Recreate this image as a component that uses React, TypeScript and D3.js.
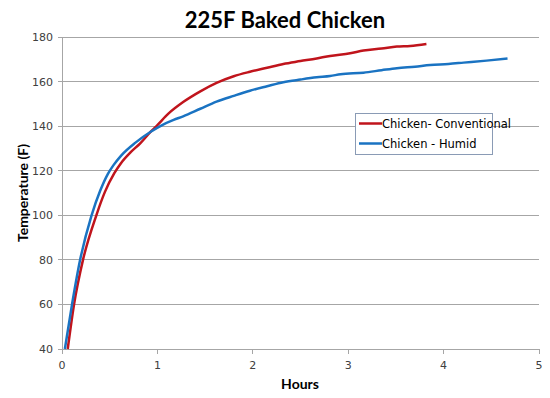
import React from "react";
import * as d3 from "d3";

const title = "225F Baked Chicken";
const xLabel = "Hours";
const yLabel = "Temperature (F)";
const xTicks = [0, 1, 2, 3, 4, 5];
const yTicks = [40, 60, 80, 100, 120, 140, 160, 180];
const seriesNames = ["Chicken- Conventional", "Chicken - Humid"];
const seriesColors = ["#c0141c", "#1a73c2"];

const conventionalHours = [0.06, 0.126, 0.22, 0.36, 0.45, 0.55, 0.62, 0.72, 0.82, 0.93, 1.0, 1.115, 1.27, 1.45, 1.62, 1.8, 1.97, 2.15, 2.32, 2.5, 2.67, 2.81, 3.02, 3.16, 3.35, 3.51, 3.65, 3.82];
const conventionalTemps = [40, 60, 80, 100, 110.5, 119, 123.5, 128.3, 132.3, 137.5, 140.5, 145.6, 150.8, 155.6, 159.4, 162.4, 164.4, 166.2, 167.9, 169.2, 170.4, 171.5, 172.7, 173.9, 174.8, 175.7, 176, 176.9];

const humidHours = [0.03, 0.105, 0.19, 0.31, 0.4, 0.48, 0.54, 0.62, 0.77, 0.93, 1.05, 1.17, 1.27, 1.45, 1.62, 1.8, 1.97, 2.15, 2.32, 2.5, 2.67, 2.81, 2.92, 3.16, 3.35, 3.51, 3.7, 3.86, 4.05, 4.21, 4.45, 4.67];
const humidTemps = [40, 60, 80, 100, 111, 118.5, 122.5, 126.8, 132.6, 137.5, 140.5, 142.8, 144.4, 147.8, 151, 153.6, 155.9, 157.9, 159.7, 160.9, 161.9, 162.5, 163.3, 164, 165.1, 166, 166.7, 167.4, 167.9, 168.5, 169.4, 170.3];

export default function App() {
  const W = 550, H = 398;
  const left = 62, right = 539, top = 37, bottom = 349;
  const x = d3.scaleLinear().domain([0, 5]).range([left, right]);
  const y = d3.scaleLinear().domain([40, 180]).range([bottom, top]);
  const line = d3
    .line<[number, number]>()
    .x((d) => x(d[0]))
    .y((d) => y(d[1]))
    .curve(d3.curveMonotoneX);
  const series = [
    conventionalHours.map((h, i) => [h, conventionalTemps[i]] as [number, number]),
    humidHours.map((h, i) => [h, humidTemps[i]] as [number, number]),
  ];
  const font = "Tahoma, 'DejaVu Sans', sans-serif";
  const legX = 355, legY = 113;
  return (
    <svg width={W} height={H} style={{ position: "absolute", left: 0, top: 0, background: "#fff" }}>
      <rect x={0} y={0} width={W} height={H} fill="#fff" />
      <text x={285} y={28} textAnchor="middle" fontFamily="Lato, 'Open Sans', sans-serif" fontWeight="bold" fontSize={22} fill="#000">
        {title}
      </text>
      {yTicks.map((t) => (
        <g key={"y" + t}>
          <line x1={left - 4} x2={right} y1={y(t)} y2={y(t)} stroke="#a6a6a6" strokeWidth={1} shapeRendering="crispEdges" />
          <text x={53} y={y(t) + 4} textAnchor="end" fontFamily={font} fontSize={11} fill="#404040">
            {t}
          </text>
        </g>
      ))}
      <line x1={left} x2={left} y1={top} y2={bottom} stroke="#a6a6a6" strokeWidth={1} shapeRendering="crispEdges" />
      {xTicks.map((t) => (
        <g key={"x" + t}>
          <line x1={x(t)} x2={x(t)} y1={bottom} y2={bottom + 5} stroke="#a6a6a6" strokeWidth={1} shapeRendering="crispEdges" />
          <text x={x(t)} y={bottom + 20} textAnchor="middle" fontFamily={font} fontSize={11} fill="#404040">
            {t}
          </text>
        </g>
      ))}
      {series.map((s, i) => (
        <path key={"s" + i} d={line(s) || ""} fill="none" stroke={seriesColors[i]} strokeWidth={2.5} strokeLinejoin="round" />
      ))}
      <text x={300} y={389} textAnchor="middle" fontFamily="Lato, 'Open Sans', sans-serif" fontWeight="bold" fontSize={14} fill="#000">
        {xLabel}
      </text>
      <text transform={`translate(28,193) rotate(-90)`} textAnchor="middle" fontFamily="Lato, 'Open Sans', sans-serif" fontWeight="bold" fontSize={14} fill="#000">
        {yLabel}
      </text>
      <rect x={legX} y={legY} width={137} height={41} fill="#fff" stroke="#8a9bb5" strokeWidth={1} shapeRendering="crispEdges" />
      {seriesNames.map((n, i) => (
        <g key={"l" + i}>
          <line x1={legX + 4} x2={legX + 27} y1={legY + 10.5 + i * 20} y2={legY + 10.5 + i * 20} stroke={seriesColors[i]} strokeWidth={2.5} />
          <text x={legX + 27} y={legY + 14.5 + i * 20} fontFamily={font} fontSize={11.5} fill="#000">
            {n}
          </text>
        </g>
      ))}
    </svg>
  );
}
